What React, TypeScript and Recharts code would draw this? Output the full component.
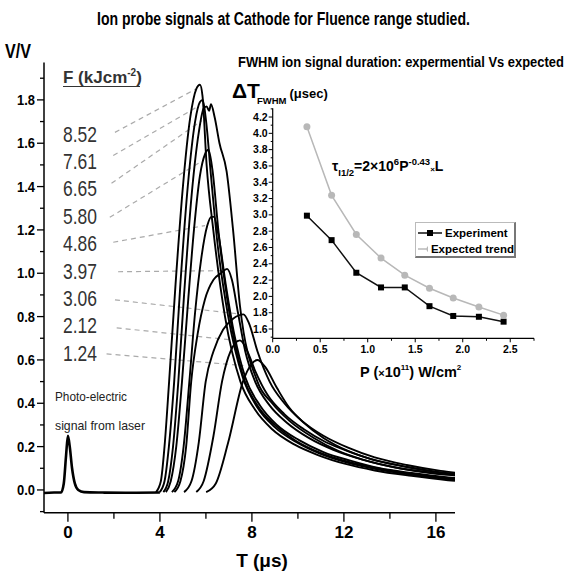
import React from 'react';
import { LineChart, Line, XAxis, YAxis, ReferenceLine, Legend } from 'recharts';

const FONT = "'Liberation Sans Narrow', 'Arial Narrow', 'Liberation Sans', Arial, sans-serif";

// fluence of each trace, in the order of the label column (kJ/cm^2)
const FLUENCES = ['8.52', '7.61', '6.65', '5.80', '4.86', '3.97', '3.06', '2.12', '1.24'];

// baseline with the photo-electric spike at t = 0  [t (us), V/V]
const BASELINE: [number, number][] = [
  [-1.04, -0.014], [-0.6, -0.012], [-0.3, -0.012], [-0.18, 0.03], [-0.08, 0.16], [0.0, 0.25],
  [0.08, 0.2], [0.18, 0.1], [0.3, 0.03], [0.45, 0.0], [0.7, -0.01], [1.5, -0.012], [2.5, -0.013], [4.0, -0.012],
];

// ion probe traces  [t (us), V/V]
const ION_852: [number, number][] = [
  [3.83, -0.01], [4.04, 0.04], [4.2, 0.2], [4.4, 0.5], [4.68, 0.95], [5.0, 1.4], [5.32, 1.72], [5.58, 1.85],
  [5.74, 1.87], [5.85, 1.82], [6.03, 1.5], [6.32, 1.2], [6.83, 0.8], [7.5, 0.5], [8.14, 0.37], [8.88, 0.28],
  [9.84, 0.21], [10.9, 0.16], [12.07, 0.12], [13.34, 0.09], [14.94, 0.065], [16.53, 0.045], [16.83, 0.042],
];
const ION_761: [number, number][] = [
  [3.99, -0.01], [4.2, 0.04], [4.39, 0.2], [4.62, 0.5], [4.89, 0.95], [5.21, 1.4], [5.53, 1.7], [5.74, 1.79],
  [5.86, 1.8], [6.01, 1.7], [6.22, 1.45], [6.49, 1.15], [6.97, 0.8], [7.6, 0.52], [8.24, 0.38], [8.99, 0.29],
  [9.94, 0.22], [11.01, 0.165], [12.18, 0.125], [13.45, 0.095], [14.94, 0.07], [16.53, 0.05], [16.83, 0.047],
];
const ION_665: [number, number][] = [
  [4.15, -0.01], [4.36, 0.04], [4.57, 0.2], [4.8, 0.5], [5.05, 0.9], [5.37, 1.35], [5.69, 1.65], [5.9, 1.76],
  [6.03, 1.77], [6.14, 1.75], [6.22, 1.78], [6.38, 1.72], [6.59, 1.6], [6.9, 1.47], [7.18, 1.2], [7.48, 0.85],
  [8.24, 0.5], [8.88, 0.4], [9.62, 0.32], [10.69, 0.24], [11.75, 0.18], [12.81, 0.14], [14.41, 0.1], [16.0, 0.075],
  [16.83, 0.068],
];
const ION_580: [number, number][] = [
  [4.26, -0.01], [4.47, 0.04], [4.71, 0.2], [4.96, 0.5], [5.21, 0.85], [5.48, 1.2], [5.74, 1.45], [5.96, 1.55],
  [6.11, 1.57], [6.28, 1.48], [6.54, 1.2], [6.97, 0.85], [7.6, 0.53], [8.24, 0.39], [8.99, 0.3], [9.94, 0.225],
  [11.01, 0.17], [12.18, 0.13], [13.45, 0.1], [14.94, 0.075], [16.53, 0.055], [16.83, 0.052],
];
const ION_486: [number, number][] = [
  [4.52, -0.01], [4.79, 0.04], [5.03, 0.2], [5.28, 0.5], [5.53, 0.82], [5.8, 1.07], [6.06, 1.22], [6.24, 1.26],
  [6.35, 1.26], [6.54, 1.18], [6.86, 0.95], [7.23, 0.72], [7.71, 0.52], [8.35, 0.39], [9.09, 0.3], [10.05, 0.23],
  [11.11, 0.175], [12.28, 0.135], [13.56, 0.1], [14.94, 0.078], [16.53, 0.058], [16.83, 0.055],
];
const ION_397: [number, number][] = [
  [4.63, -0.01], [4.89, 0.04], [5.14, 0.2], [5.36, 0.5], [5.64, 0.72], [5.96, 0.88], [6.33, 0.97], [6.65, 1.0],
  [6.92, 1.02], [7.13, 0.97], [7.39, 0.82], [7.71, 0.64], [8.14, 0.5], [8.77, 0.39], [9.52, 0.31], [10.47, 0.24],
  [11.54, 0.185], [12.81, 0.14], [14.19, 0.105], [15.79, 0.08], [16.83, 0.068],
];
const ION_306: [number, number][] = [
  [5.05, -0.01], [5.37, 0.04], [5.69, 0.22], [5.99, 0.5], [6.33, 0.64], [6.75, 0.74], [7.18, 0.79], [7.63, 0.81],
  [7.87, 0.77], [8.24, 0.64], [8.77, 0.5], [9.41, 0.4], [10.16, 0.32], [11.11, 0.25], [12.18, 0.195], [13.34, 0.15],
  [14.73, 0.115], [16.21, 0.088], [16.83, 0.08],
];
const ION_212: [number, number][] = [
  [5.58, -0.01], [5.9, 0.04], [6.33, 0.25], [6.7, 0.5], [7.07, 0.64], [7.48, 0.69], [7.76, 0.65], [8.14, 0.55],
  [8.67, 0.44], [9.41, 0.35], [10.26, 0.28], [11.22, 0.22], [12.28, 0.175], [13.45, 0.135], [14.83, 0.105],
  [16.32, 0.08], [16.83, 0.074],
];
const ION_124: [number, number][] = [
  [6.01, -0.01], [6.43, 0.03], [6.97, 0.22], [7.61, 0.5], [7.98, 0.58], [8.24, 0.6], [8.56, 0.57], [9.09, 0.47],
  [9.62, 0.38], [10.26, 0.31], [11.11, 0.24], [12.18, 0.18], [13.24, 0.14], [14.51, 0.11], [16.21, 0.08], [16.83, 0.073],
];
const ION_TRACES = [ION_852, ION_761, ION_665, ION_580, ION_486, ION_397, ION_306, ION_212, ION_124];

// dashed leaders from each fluence label to its trace  [t, V]
const LEADER_START: [number, number][] = [
  [2.045, 1.65], [1.97, 1.543], [1.895, 1.415], [1.82, 1.258], [1.97, 1.143], [2.18, 1.007], [2.045, 0.877], [2.12, 0.748], [1.68, 0.628],
];
const LEADER_END: [number, number][] = [
  [5.56, 1.85], [5.59, 1.766], [5.82, 1.704], [5.74, 1.512], [5.96, 1.22], [6.75, 1.012], [7.48, 0.812], [7.4, 0.689], [7.63, 0.574],
];

const X_TICKS = [0, 2, 4, 6, 8, 10, 12, 14, 16];
const Y_TICKS = [-0.1, 0, 0.1, 0.2, 0.3, 0.4, 0.5, 0.6, 0.7, 0.8, 0.9, 1.0, 1.1, 1.2, 1.3, 1.4, 1.5, 1.6, 1.7, 1.8, 1.9];

// inset: FWHM duration vs laser power
const POWER = [0.36, 0.62, 0.88, 1.14, 1.39, 1.65, 1.9, 2.17, 2.43];
const FWHM_EXPERIMENT = [2.99, 2.69, 2.29, 2.11, 2.11, 1.88, 1.76, 1.75, 1.69];
const FWHM_EXPECTED = [4.08, 3.24, 2.76, 2.47, 2.26, 2.1, 1.98, 1.87, 1.77];
const INSET_X_TICKS = [0, 0.25, 0.5, 0.75, 1.0, 1.25, 1.5, 1.75, 2.0, 2.25, 2.5, 2.75];
const INSET_Y_TICKS = [
  1.5, 1.6, 1.7, 1.8, 1.9, 2.0, 2.1, 2.2, 2.3, 2.4, 2.5, 2.6, 2.7, 2.8, 2.9, 3.0, 3.1, 3.2, 3.3, 3.4, 3.5,
  3.6, 3.7, 3.8, 3.9, 4.0, 4.1, 4.2, 4.3,
];

const insetData = POWER.map((p, i) => ({ p, exp: FWHM_EXPERIMENT[i], trend: FWHM_EXPECTED[i] }));
const toPoints = (pts: [number, number][]) => pts.map(([t, v]) => ({ t, v }));

const MainYTick = (props: any) => {
  const { x, y, payload } = props;
  const i = Math.round(payload.value * 10);
  const major = i >= 0 && i % 2 === 0;
  return (
    <g>
      <line x1={x} x2={x - (major ? 7 : 4)} y1={y} y2={y} stroke="#000" strokeWidth={1.3} />
      {major && (
        <text
          x={x - 9} y={y + 5} textAnchor="end" fontSize={15.5} fontWeight="bold" fontFamily={FONT} fill="#000"
          textLength={18} lengthAdjust="spacingAndGlyphs"
        >
          {payload.value.toFixed(1)}
        </text>
      )}
    </g>
  );
};

const MainXTick = (props: any) => {
  const { x, y, payload } = props;
  const major = payload.value % 4 === 0;
  return (
    <g>
      <line x1={x} x2={x} y1={y} y2={y + (major ? 9 : 6)} stroke="#000" strokeWidth={1.3} />
      {major && (
        <text x={x} y={y + 25} textAnchor="middle" fontSize={17} fontWeight="bold" fontFamily={FONT} fill="#000">
          {payload.value}
        </text>
      )}
    </g>
  );
};

const InsetYTick = (props: any) => {
  const { x, y, payload } = props;
  const i = Math.round(payload.value * 10);
  const major = i % 2 === 0 && i >= 16 && i <= 42;
  return (
    <g>
      <line x1={x} x2={x - (major ? 4 : 2)} y1={y} y2={y} stroke="#000" strokeWidth={1} />
      {major && (
        <text x={x - 5} y={y + 3.5} textAnchor="end" fontSize={10.5} fontWeight="bold" fontFamily={FONT} fill="#000">
          {payload.value.toFixed(1)}
        </text>
      )}
    </g>
  );
};

const InsetXTick = (props: any) => {
  const { x, y, payload } = props;
  const i = Math.round(payload.value * 4);
  const major = i % 2 === 0;
  return (
    <g>
      <line x1={x} x2={x} y1={y} y2={y + (major ? 4 : 2.5)} stroke="#000" strokeWidth={1} />
      {major && (
        <text x={x} y={y + 15} textAnchor="middle" fontSize={10.5} fontWeight="bold" fontFamily={FONT} fill="#000">
          {payload.value.toFixed(1)}
        </text>
      )}
    </g>
  );
};

const SquareDot = (props: any) => {
  const { cx, cy, index } = props;
  return <rect key={`sq-${index}`} x={cx - 3} y={cy - 3} width={6} height={6} fill="#000" />;
};

const InsetLegend = (props: any) => {
  // experiment first, as in the original legend
  const items = [...(props.payload || [])].sort((a: any, b: any) => (a.dataKey === 'exp' ? -1 : b.dataKey === 'exp' ? 1 : 0));
  return (
    <div
      style={{
        boxSizing: 'border-box', width: 101, height: 36, background: '#fff',
        border: '1px solid #bbb', borderRight: '2px solid #777', borderBottom: '2px solid #777',
        padding: '2px 0 0 2px', fontFamily: FONT, fontWeight: 'bold', fontSize: 11.5, color: '#000',
      }}
    >
      {items.map((e: any) => (
        <div key={e.value} style={{ display: 'flex', alignItems: 'center', height: 16, whiteSpace: 'nowrap' }}>
          <svg width={24} height={10}>
            <line x1={0} x2={24} y1={5} y2={5} stroke={e.color} strokeWidth={1.5} />
            {e.dataKey === 'exp'
              ? <rect x={9} y={2} width={6} height={6} fill="#000" />
              : <circle cx={12} cy={5} r={3.5} fill={e.color} />}
          </svg>
          <span style={{ marginLeft: 3 }}>{e.value}</span>
        </div>
      ))}
    </div>
  );
};

export default function App() {
  return (
    <div style={{ position: 'absolute', left: 0, top: 0, width: 570, height: 580, background: '#fff' }}>
      {/* main chart: ion probe traces */}
      <div style={{ position: 'absolute', left: 0, top: 0 }}>
        <LineChart width={570} height={580} margin={{ top: 62.4, right: 115, bottom: 37.3, left: 4 }}>
          <XAxis
            type="number" dataKey="t" domain={[-1.04, 16.83]} ticks={X_TICKS} interval={0} allowDataOverflow
            height={30} tickSize={0} tickMargin={0} tickLine={false} tick={<MainXTick />}
            axisLine={{ stroke: '#000', strokeWidth: 1.5 }}
          />
          <YAxis
            type="number" dataKey="v" domain={[-0.105, 1.973]} ticks={Y_TICKS} interval={0} allowDataOverflow
            width={40} tickSize={0} tickMargin={0} tickLine={false} tick={<MainYTick />}
            axisLine={{ stroke: '#000', strokeWidth: 1.5 }}
          />
          {LEADER_START.map((s, i) => (
            <ReferenceLine
              key={`lead-${i}`}
              segment={[{ x: s[0], y: s[1] }, { x: LEADER_END[i][0], y: LEADER_END[i][1] }]}
              stroke="#aaa" strokeWidth={1.2} strokeDasharray="5 4" ifOverflow="visible"
            />
          ))}
          <Line
            data={toPoints(BASELINE)} dataKey="v" type="monotone" stroke="#000" strokeWidth={2.6}
            dot={false} isAnimationActive={false}
          />
          {ION_TRACES.map((tr, i) => (
            <Line
              key={FLUENCES[i]} name={FLUENCES[i]} data={toPoints(tr)} dataKey="v" type="monotone"
              stroke="#000" strokeWidth={1.9} dot={false} isAnimationActive={false}
            />
          ))}
        </LineChart>
      </div>

      {/* inset: FWHM duration */}
      <div style={{ position: 'absolute', left: 0, top: 0 }}>
        <LineChart width={570} height={580} data={insetData} margin={{ top: 108.3, right: 36, bottom: 221.7, left: 242.7 }}>
          <XAxis
            type="number" dataKey="p" domain={[0, 2.75]} ticks={INSET_X_TICKS} interval={0} allowDataOverflow
            height={20} tickSize={0} tickMargin={0} tickLine={false} tick={<InsetXTick />}
            axisLine={{ stroke: '#000', strokeWidth: 1.2 }}
          />
          <YAxis
            type="number" domain={[1.486, 4.307]} ticks={INSET_Y_TICKS} interval={0} allowDataOverflow
            width={30} tickSize={0} tickMargin={0} tickLine={false} tick={<InsetYTick />}
            axisLine={{ stroke: '#000', strokeWidth: 1.2 }}
          />
          <Legend
            layout="vertical" align="center" verticalAlign="middle" content={<InsetLegend />}
            wrapperStyle={{ left: 415, top: 222, width: 101, height: 36 }}
          />
          <Line
            dataKey="exp" name="Experiment" type="linear" stroke="#111" strokeWidth={1.5}
            dot={<SquareDot />} isAnimationActive={false}
          />
          <Line
            dataKey="trend" name="Expected trend" type="linear" stroke="#b8b8b8" strokeWidth={1.5}
            dot={{ r: 3.5, fill: '#b8b8b8', stroke: '#b8b8b8', strokeWidth: 0 }} isAnimationActive={false}
          />
        </LineChart>
      </div>

      {/* titles and annotations */}
      <svg width={570} height={580} style={{ position: 'absolute', left: 0, top: 0, pointerEvents: 'none' }} fontFamily={FONT}>
        <text
          transform="translate(97,25) scale(0.72,1)" x={0} y={0} fontSize={18.5} fontWeight="bold"
          textLength={518} lengthAdjust="spacingAndGlyphs"
        >
          Ion probe signals at Cathode for Fluence range studied.
        </text>
        <text x={5} y={58} fontSize={21} fontWeight="bold" textLength={26} lengthAdjust="spacingAndGlyphs">V/V</text>
        <text x={262} y={567} fontSize={19} fontWeight="bold" textAnchor="middle">T (μs)</text>

        <text x={63} y={83} fontSize={17} fontWeight="bold" fill="#333">
          F (kJcm<tspan fontSize={10} dy={-7}>-2</tspan><tspan dy={7}>)</tspan>
        </text>
        <line x1={63} x2={140} y1={86.5} y2={86.5} stroke="#333" strokeWidth={1.2} />
        {FLUENCES.map((f, i) => (
          <text key={f} x={63} y={141.7 + i * 27.37} fontSize={22} fill="#333" textLength={34} lengthAdjust="spacingAndGlyphs">
            {f}
          </text>
        ))}

        <text x={55} y={401} fontSize={13} fill="#222" textLength={72} lengthAdjust="spacingAndGlyphs">Photo-electric</text>
        <text x={55} y={430} fontSize={13} fill="#222" textLength={90} lengthAdjust="spacingAndGlyphs">signal from laser</text>

        <text
          transform="translate(238,66.7) scale(0.9,1)" x={0} y={0} fontSize={14.5} fontWeight="bold"
          textLength={362} lengthAdjust="spacingAndGlyphs"
        >
          FWHM ion signal duration: expermential Vs expected
        </text>
        <text x={232} y={98.3} fontWeight="bold">
          <tspan fontSize={21}>ΔT</tspan>
          <tspan fontSize={9.5} dy={6} dx={-3}>FWHM</tspan>
          <tspan fontSize={13} dy={-6} dx={3}>(μsec)</tspan>
        </text>
        <text x={332} y={171} fontSize={14} fontWeight="bold">
          τ<tspan fontSize={9.5} dy={5}>I1/2</tspan><tspan dy={-5}>=2×10</tspan><tspan fontSize={9.5} dy={-6}>6</tspan>
          <tspan dy={6}>P</tspan><tspan fontSize={9.5} dy={-6}>-0.43</tspan><tspan fontSize={8} dy={7}>×</tspan>
          <tspan dy={-1}>L</tspan>
        </text>
        <text x={360} y={376.7} fontSize={14.5} fontWeight="bold">
          P (<tspan fontSize={11}>×</tspan>10<tspan fontSize={8} dy={-7}>11</tspan><tspan dy={7}>) W/cm</tspan>
          <tspan fontSize={8} dy={-7}>2</tspan>
        </text>
      </svg>
    </div>
  );
}
